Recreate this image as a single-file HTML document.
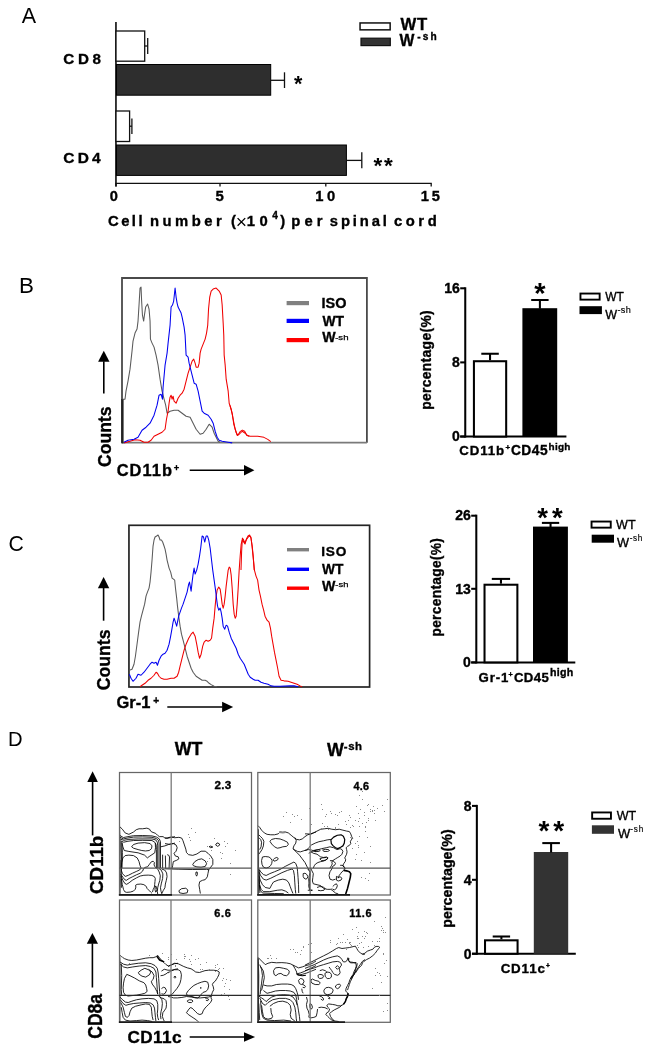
<!DOCTYPE html>
<html><head><meta charset="utf-8"><style>
html,body{margin:0;padding:0;background:#fff;}
body{width:649px;height:1050px;overflow:hidden;position:relative;}
svg{position:absolute;left:0;top:0;will-change:transform;}
text{font-family:"Liberation Sans", sans-serif;}
</style></head><body>
<svg width="649" height="1050" viewBox="0 0 649 1050">
<rect x="0" y="0" width="649" height="1050" fill="#fff"/>
<text x="21.76" y="23.1" font-size="21.51" font-weight="normal" fill="#000" >A</text>
<text x="18.96" y="292.7" font-size="22.38" font-weight="normal" fill="#000" >B</text>
<text x="8.62" y="551.39" font-size="21.19" font-weight="normal" fill="#000" >C</text>
<text x="7.94" y="746.2" font-size="20.2" font-weight="normal" fill="#000" >D</text>
<g stroke="#111" stroke-width="1.3" fill="none">
<line x1="115.95" y1="22" x2="115.95" y2="186.5" stroke-width="1.65"/>
<line x1="115.4" y1="183.4" x2="431.8" y2="183.4"/>
<line x1="116" y1="183.4" x2="116" y2="186.5"/>
<line x1="220" y1="183.4" x2="220" y2="186.5"/>
<line x1="325.8" y1="183.4" x2="325.8" y2="186.5"/>
<line x1="431.2" y1="183.4" x2="431.2" y2="186.5"/>
</g>
<rect x="116" y="31" width="28.7" height="30.2" fill="#fff" stroke="#111" stroke-width="1.3"/>
<rect x="116.5" y="64.5" width="154.2" height="30.7" fill="#2e2e2e" stroke="#000" stroke-width="1"/>
<rect x="116" y="111" width="13.6" height="30.5" fill="#fff" stroke="#111" stroke-width="1.3"/>
<rect x="116.5" y="145" width="229.9" height="30.4" fill="#2e2e2e" stroke="#000" stroke-width="1"/>
<g stroke="#111" stroke-width="1.3">
<line x1="144.7" y1="46" x2="147.7" y2="46"/><line x1="147.7" y1="38" x2="147.7" y2="54"/>
<line x1="129.6" y1="126.2" x2="131.9" y2="126.2"/><line x1="131.9" y1="118.5" x2="131.9" y2="134"/>
<line x1="271" y1="80.3" x2="284.5" y2="80.3"/><line x1="284.5" y1="72.3" x2="284.5" y2="88"/>
<line x1="347" y1="160.4" x2="361.8" y2="160.4"/><line x1="361.8" y1="152.3" x2="361.8" y2="168.2"/>
</g>
<text x="293.9" y="90.7" font-size="21.5" font-weight="bold" fill="#000" >*</text>
<text x="373.5" y="172.8" font-size="22.5" font-weight="bold" letter-spacing="1.65" fill="#000" >**</text>
<text x="63.35" y="64.38" font-size="15.18" font-weight="bold" letter-spacing="3.68" fill="#000"  stroke="#000" stroke-width="0.35">CD8</text>
<text x="63.34" y="162.87" font-size="15.47" font-weight="bold" letter-spacing="3.16" fill="#000"  stroke="#000" stroke-width="0.35">CD4</text>
<text x="109.8" y="201.48" font-size="14.62" font-weight="bold" fill="#000"  stroke="#000" stroke-width="0.35">0</text>
<text x="215.51" y="201.38" font-size="14.98" font-weight="bold" fill="#000"  stroke="#000" stroke-width="0.35">5</text>
<text x="315.35" y="201.38" font-size="14.76" font-weight="bold" letter-spacing="3.57" fill="#000"  stroke="#000" stroke-width="0.35">10</text>
<text x="420.75" y="201.48" font-size="14.69" font-weight="bold" letter-spacing="2.84" fill="#000"  stroke="#000" stroke-width="0.35">15</text>
<text x="107.96" y="226.0" font-size="14.8" font-weight="bold" letter-spacing="2.49" fill="#000" stroke="#000" stroke-width="0.35">Cell</text>
<text x="149.99" y="226.0" font-size="14.8" font-weight="bold" letter-spacing="3.48" fill="#000" stroke="#000" stroke-width="0.35">number</text>
<text x="291.19" y="226.0" font-size="14.8" font-weight="bold" letter-spacing="4.16" fill="#000" stroke="#000" stroke-width="0.35">per</text>
<text x="329.85" y="226.0" font-size="14.8" font-weight="bold" letter-spacing="2.85" fill="#000" stroke="#000" stroke-width="0.35">spinal</text>
<text x="393.89" y="226.0" font-size="14.8" font-weight="bold" letter-spacing="3.61" fill="#000" stroke="#000" stroke-width="0.35">cord</text>
<text x="231.03" y="226.0" font-size="14.8" font-weight="bold" fill="#000" stroke="#000" stroke-width="0.35">(</text>
<text x="246.84" y="226.0" font-size="14.8" font-weight="bold" fill="#000" stroke="#000" stroke-width="0.35">1</text>
<text x="259.58" y="226.0" font-size="14.8" font-weight="bold" fill="#000" stroke="#000" stroke-width="0.35">0</text>
<text x="280.26" y="226.0" font-size="14.8" font-weight="bold" fill="#000" stroke="#000" stroke-width="0.35">)</text>
<text x="272.22" y="219.42" font-size="10.1" font-weight="bold" fill="#000"  stroke="#000" stroke-width="0.35">4</text>
<path d="M237.6 218.1 L245.2 225.7 M245.2 218.1 L237.6 225.7" stroke="#000" stroke-width="1.3"/>
<rect x="360.05" y="22.95" width="30.1" height="6.9" fill="#fff" stroke="#111" stroke-width="1.5"/>
<rect x="361" y="38.2" width="29.3" height="7.4" fill="#333" stroke="#111" stroke-width="1.2"/>
<text x="400.56" y="30.43" font-size="16.72" font-weight="bold" letter-spacing="0.66" fill="#000"  stroke="#000" stroke-width="0.35">WT</text>
<text x="399.56" y="45.73" font-size="15.77" font-weight="bold" fill="#000"  stroke="#000" stroke-width="0.35">W</text>
<text x="417.18" y="39.83" font-size="10.14" font-weight="bold" letter-spacing="2.18" fill="#000"  stroke="#000" stroke-width="0.35">-sh</text>
<g stroke="#000" stroke-width="2.05" fill="none" stroke-linecap="butt">
<line x1="465.25" y1="287.27500000000003" x2="465.25" y2="437.575"/>
<line x1="460.2" y1="436.55" x2="566.4" y2="436.55"/>
<line x1="460.2" y1="288.3" x2="465.25" y2="288.3"/>
<line x1="460.2" y1="362.4" x2="465.25" y2="362.4"/>
<line x1="460.2" y1="436.55" x2="465.25" y2="436.55"/>
</g>
<text x="459.84999999999997" y="293.05" font-size="14.0" font-weight="bold" text-anchor="end" fill="#000" stroke="#000" stroke-width="0.35">16</text>
<text x="459.84999999999997" y="367.15" font-size="14.0" font-weight="bold" text-anchor="end" fill="#000" stroke="#000" stroke-width="0.35">8</text>
<text x="459.84999999999997" y="441.3" font-size="14.0" font-weight="bold" text-anchor="end" fill="#000" stroke="#000" stroke-width="0.35">0</text>
<rect x="473.92499999999995" y="361.22499999999997" width="32.250000000000014" height="75.32500000000002" fill="#fff" stroke="#000" stroke-width="2.05"/>
<g stroke="#000" stroke-width="2.05"><line x1="490.05" y1="360.2" x2="490.05" y2="353.75"/><line x1="481.3" y1="353.75" x2="498.8" y2="353.75"/></g>
<rect x="522.4" y="308.2" width="34.80000000000007" height="128.35000000000002" fill="#000"/>
<g stroke="#000" stroke-width="2.05"><line x1="539.9000000000001" y1="308.7" x2="539.9000000000001" y2="300.0"/><line x1="531.2" y1="300.0" x2="548.6" y2="300.0"/></g>
<text x="534.2" y="303.2" font-size="29" font-weight="bold" fill="#000" >*</text>
<text x="459.23" y="455.1" font-size="13.28" font-weight="bold" letter-spacing="0.92" fill="#000"  stroke="#000" stroke-width="0.35">CD11b</text>
<text x="505.54" y="450.35" font-size="7.98" font-weight="bold" fill="#000"  stroke="#000" stroke-width="0.35">+</text>
<text x="510.91" y="455.09" font-size="13.77" font-weight="bold" letter-spacing="0.5" fill="#000"  stroke="#000" stroke-width="0.35">CD45</text>
<text x="548.58" y="449.81" font-size="9.98" font-weight="bold" letter-spacing="0.23" fill="#000"  stroke="#000" stroke-width="0.35">high</text>
<text transform="translate(431.09 409.84) rotate(-90)" font-size="13.83" font-weight="bold" letter-spacing="0.35" stroke="#000" stroke-width="0.35">percentage(%)</text>
<rect x="580.45" y="293.55" width="19.200000000000024" height="6.1" fill="#fff" stroke="#000" stroke-width="1.9"/>
<rect x="579.5" y="306.2" width="22.399999999999977" height="7.900000000000034" fill="#000"/>
<text x="605.25" y="300.90" font-size="12.65" font-weight="normal" textLength="18.63" lengthAdjust="spacingAndGlyphs" stroke="#000" stroke-width="0.35">WT</text>
<text x="605.15" y="318.5" font-size="12.5" font-weight="normal" fill="#000" stroke="#000" stroke-width="0.35">W</text>
<text x="617.49" y="312.81" font-size="9.12" font-weight="normal" letter-spacing="0.31" fill="#000" stroke="#000" stroke-width="0.15">-sh</text>
<g stroke="#000" stroke-width="2.05" fill="none" stroke-linecap="butt">
<line x1="476.3" y1="514.6750000000001" x2="476.3" y2="663.425"/>
<line x1="471.2" y1="662.4" x2="575.3" y2="662.4"/>
<line x1="471.2" y1="515.7" x2="476.3" y2="515.7"/>
<line x1="471.2" y1="588.8" x2="476.3" y2="588.8"/>
<line x1="471.2" y1="662.4" x2="476.3" y2="662.4"/>
</g>
<text x="470.84999999999997" y="520.45" font-size="14.0" font-weight="bold" text-anchor="end" fill="#000" stroke="#000" stroke-width="0.35">26</text>
<text x="470.84999999999997" y="593.55" font-size="14.0" font-weight="bold" text-anchor="end" fill="#000" stroke="#000" stroke-width="0.35">13</text>
<text x="470.84999999999997" y="667.15" font-size="14.0" font-weight="bold" text-anchor="end" fill="#000" stroke="#000" stroke-width="0.35">0</text>
<rect x="484.525" y="584.725" width="32.84999999999998" height="77.67499999999993" fill="#fff" stroke="#000" stroke-width="2.05"/>
<g stroke="#000" stroke-width="2.05"><line x1="500.95000000000005" y1="583.7" x2="500.95000000000005" y2="578.9"/><line x1="491.8" y1="578.9" x2="510.1" y2="578.9"/></g>
<rect x="533.0" y="526.6" width="34.89999999999998" height="135.79999999999995" fill="#000"/>
<g stroke="#000" stroke-width="2.05"><line x1="550.55" y1="527.1" x2="550.55" y2="522.9"/><line x1="541.9" y1="522.9" x2="559.2" y2="522.9"/></g>
<text x="537.3" y="526.6" font-size="27.5" font-weight="bold" letter-spacing="4.0" fill="#000" >**</text>
<text x="478.53" y="681.9" font-size="13.21" font-weight="bold" letter-spacing="0.87" fill="#000"  stroke="#000" stroke-width="0.35">Gr-1</text>
<text x="508.47" y="677.19" font-size="7.19" font-weight="bold" fill="#000"  stroke="#000" stroke-width="0.35">+</text>
<text x="513.93" y="681.9" font-size="13.21" font-weight="bold" letter-spacing="0.4" fill="#000"  stroke="#000" stroke-width="0.35">CD45</text>
<text x="549.93" y="676.17" font-size="10.62" font-weight="bold" letter-spacing="0.31" fill="#000"  stroke="#000" stroke-width="0.35">high</text>
<text transform="translate(441.02 636.53) rotate(-90)" font-size="13.72" font-weight="bold" letter-spacing="0.32" stroke="#000" stroke-width="0.35">percentage(%)</text>
<rect x="591.5500000000001" y="521.5500000000001" width="19.200000000000024" height="6.1" fill="#fff" stroke="#000" stroke-width="1.9"/>
<rect x="591.7" y="534.7" width="22.299999999999955" height="8.0" fill="#000"/>
<text x="616.04" y="528.90" font-size="12.79" font-weight="normal" textLength="19.54" lengthAdjust="spacingAndGlyphs" stroke="#000" stroke-width="0.35">WT</text>
<text x="617.04" y="546.8" font-size="12.79" font-weight="normal" fill="#000" stroke="#000" stroke-width="0.35">W</text>
<text x="629.64" y="540.72" font-size="8.17" font-weight="normal" letter-spacing="0.72" fill="#000" stroke="#000" stroke-width="0.15">-sh</text>
<g stroke="#000" stroke-width="2.05" fill="none" stroke-linecap="butt">
<line x1="476.85" y1="804.875" x2="476.85" y2="954.775"/>
<line x1="472.0" y1="953.75" x2="575.8" y2="953.75"/>
<line x1="472.0" y1="805.9" x2="476.85" y2="805.9"/>
<line x1="472.0" y1="879.8" x2="476.85" y2="879.8"/>
<line x1="472.0" y1="953.75" x2="476.85" y2="953.75"/>
</g>
<text x="471.65" y="810.65" font-size="14.0" font-weight="bold" text-anchor="end" fill="#000" stroke="#000" stroke-width="0.35">8</text>
<text x="471.65" y="884.55" font-size="14.0" font-weight="bold" text-anchor="end" fill="#000" stroke="#000" stroke-width="0.35">4</text>
<text x="471.65" y="958.5" font-size="14.0" font-weight="bold" text-anchor="end" fill="#000" stroke="#000" stroke-width="0.35">0</text>
<rect x="485.025" y="940.3249999999999" width="32.550000000000026" height="13.425000000000045" fill="#fff" stroke="#000" stroke-width="2.05"/>
<g stroke="#000" stroke-width="2.05"><line x1="501.4" y1="939.3" x2="501.4" y2="936.5"/><line x1="492.7" y1="936.5" x2="510.1" y2="936.5"/></g>
<rect x="533.8" y="852.0" width="34.40000000000009" height="101.75" fill="#333"/>
<g stroke="#000" stroke-width="2.05"><line x1="551.0999999999999" y1="852.5" x2="551.0999999999999" y2="843.1"/><line x1="542.3" y1="843.1" x2="559.9" y2="843.1"/></g>
<text x="538.6" y="840.0" font-size="28" font-weight="bold" letter-spacing="3.8" fill="#000" >**</text>
<text x="500.63" y="972.99" font-size="13.35" font-weight="bold" letter-spacing="0.86" fill="#000"  stroke="#000" stroke-width="0.35">CD11c</text>
<text x="546.0" y="967.54" font-size="6.6" font-weight="bold" fill="#000"  stroke="#000" stroke-width="0.35">+</text>
<text transform="translate(451.9 927.66) rotate(-90)" font-size="14.25" font-weight="bold" letter-spacing="0.02" stroke="#000" stroke-width="0.35">percentage(%)</text>
<rect x="592.1500000000001" y="812.45" width="18.799999999999933" height="6.300000000000045" fill="#fff" stroke="#000" stroke-width="1.9"/>
<rect x="591.9" y="825.3" width="22.100000000000023" height="8.5" fill="#333"/>
<text x="616.65" y="819.70" font-size="13.23" font-weight="normal" textLength="19.44" lengthAdjust="spacingAndGlyphs" stroke="#000" stroke-width="0.35">WT</text>
<text x="617.94" y="837.7" font-size="12.94" font-weight="normal" fill="#000" stroke="#000" stroke-width="0.35">W</text>
<text x="630.14" y="831.62" font-size="8.17" font-weight="normal" letter-spacing="0.92" fill="#000" stroke="#000" stroke-width="0.15">-sh</text>
<path d="M122.0 442.7 L122.0 278.0 L366.9 278.0 L366.9 442.7" fill="none" stroke="#4a4a4a" stroke-width="1.8"/>
<line x1="122.0" y1="442.7" x2="366.9" y2="442.7" stroke="#7a7a7a" stroke-width="1.7"/>
<line x1="122.4" y1="399" x2="122.4" y2="443.4" stroke="#222" stroke-width="2.4"/>
<path d="M122.40 399.20 L125.01 399.20 L126.01 391.19 L128.01 381.17 L130.02 369.15 L132.02 351.12 L133.02 341.11 L135.02 333.09 L137.03 329.09 L138.03 321.07 L139.03 305.05 L140.03 288.02 L141.03 287.02 L141.63 301.04 L142.44 315.06 L143.64 321.07 L144.44 315.06 L145.64 307.05 L147.64 304.05 L149.05 309.05 L150.05 321.07 L150.45 339.10 L152.05 343.11 L154.05 347.12 L156.06 355.13 L158.06 365.14 L160.06 379.17 L162.07 391.19 L164.07 399.20 L165.67 405.21 L167.08 413.22 L170.08 411.22 L174.09 410.22 L178.09 410.22 L182.10 413.22 L186.11 416.23 L190.11 417.23 L192.12 421.23 L196.12 429.25 L200.13 434.25 L203.13 433.25 L206.14 429.25 L209.14 424.24 L212.15 427.24 L214.15 433.25 L216.15 437.26 L218.16 441.27 L220.16 442.27" fill="none" stroke="#5a5a5a" stroke-width="1.05" stroke-linejoin="round" />
<path d="M124.01 442.87 L130.02 441.27 L135.02 439.66 L140.03 440.26 L144.04 442.27 L148.04 442.27 L151.05 440.26 L154.05 436.26 L158.06 434.25 L162.07 432.25 L165.07 429.25 L166.47 419.23 L168.08 411.22 L169.08 403.21 L170.08 397.20 L171.08 395.19 L172.08 399.20 L173.08 396.19 L174.09 401.20 L176.09 403.21 L178.09 398.20 L180.10 395.19 L182.10 393.19 L184.10 389.18 L186.11 381.17 L188.11 373.16 L190.11 367.15 L192.12 361.14 L193.72 359.13 L195.12 363.14 L196.12 367.15 L198.12 367.15 L199.13 363.14 L200.13 353.12 L201.13 349.12 L203.13 344.11 L205.14 339.10 L206.54 333.09 L207.74 325.08 L208.54 309.05 L209.74 297.04 L211.15 291.03 L213.15 289.02 L216.15 288.02 L219.16 291.03 L221.16 295.03 L222.16 305.05 L223.17 323.08 L223.77 335.10 L224.17 355.13 L225.17 365.14 L226.17 379.17 L228.17 391.19 L229.17 403.21 L231.18 409.21 L233.18 419.23 L235.18 429.25 L237.19 435.26 L239.19 434.25 L242.20 431.25 L245.20 433.25 L247.20 435.26 L249.21 436.26" fill="none" stroke="#f00000" stroke-width="1.05" stroke-linejoin="round" />
<path d="M230.00 405.45 L232.31 413.93 L233.85 424.71 L236.16 432.42 L237.70 435.50 L240.02 431.65 L242.33 430.11 L244.64 431.19 L246.95 435.50 L250.03 436.27 L257.73 436.27 L263.90 437.35 L267.75 439.35 L270.83 441.66" fill="none" stroke="#f00000" stroke-width="1.05" stroke-linejoin="round" />
<path d="M124.01 442.27 L128.01 440.26 L134.02 439.26 L138.03 437.26 L142.04 430.25 L146.04 427.24 L150.05 423.24 L154.05 415.22 L157.06 405.21 L159.06 395.19 L161.07 394.19 L162.47 399.20 L163.07 387.18 L165.07 365.14 L167.08 353.12 L168.08 343.11 L170.08 325.08 L171.08 307.05 L172.48 305.05 L173.69 301.04 L175.09 288.02 L176.09 297.04 L177.09 303.04 L178.09 307.05 L179.09 309.05 L180.10 311.06 L181.10 313.06 L182.10 317.07 L184.10 327.08 L185.10 335.10 L186.11 355.13 L188.11 357.13 L189.11 363.14 L190.11 367.15 L192.12 375.16 L194.12 383.17 L196.12 384.17 L198.12 391.19 L200.13 401.20 L202.13 411.22 L204.13 413.22 L208.14 415.22 L211.15 419.23 L213.15 423.24 L215.15 431.25 L217.16 437.26 L219.16 440.26 L222.16 441.27 L228.17 442.27 L232.18 442.87" fill="none" stroke="#0000f0" stroke-width="1.05" stroke-linejoin="round" />
<line x1="286.6" y1="303.1" x2="309" y2="303.1" stroke="#808080" stroke-width="4.2"/>
<line x1="286.6" y1="320.9" x2="309" y2="320.9" stroke="#0000ff" stroke-width="4.2"/>
<line x1="286.6" y1="340.1" x2="309" y2="340.1" stroke="#ff0000" stroke-width="4.2"/>
<text x="321.51" y="308.18" font-size="14.48" font-weight="bold" letter-spacing="-0.01" fill="#000"  stroke="#000" stroke-width="0.35">ISO</text>
<text x="322.46" y="325.62" font-size="14.9" font-weight="bold" textLength="21.61" lengthAdjust="spacingAndGlyphs"  stroke="#000" stroke-width="0.35">WT</text>
<text x="322.16" y="342.43" font-size="14.17" font-weight="bold" fill="#000"  stroke="#000" stroke-width="0.35">W</text>
<text x="335.17" y="339.63" font-size="7.63" font-weight="normal" textLength="13.35" lengthAdjust="spacingAndGlyphs" stroke="#000" stroke-width="0.25">-sh</text>
<line x1="103.8" y1="361.2" x2="103.8" y2="393.6" stroke="#000" stroke-width="1.6"/><path d="M103.8 350.7 L98.1 361.7 L109.5 361.7 Z" fill="#000"/>
<text transform="translate(110.74 466.94) rotate(-90)" font-size="19.28" font-weight="bold" textLength="60.39" lengthAdjust="spacingAndGlyphs" stroke="#000" stroke-width="0.35">Counts</text>
<text x="116.7" y="475.86" font-size="16.41" font-weight="bold" letter-spacing="1.06" fill="#000"  stroke="#000" stroke-width="0.35">CD11b</text>
<text x="173.68" y="471.36" font-size="9.4" font-weight="bold" fill="#000"  stroke="#000" stroke-width="0.35">+</text>
<line x1="189.7" y1="470.3" x2="244.5" y2="470.3" stroke="#000" stroke-width="1.6"/><path d="M254.4 470.3 L244 465.1 L244 475.5 Z" fill="#000"/>
<rect x="128.95" y="525.3" width="240.65" height="161.7" fill="none" stroke="#242424" stroke-width="1.7"/>
<path d="M129.41 670.24 L132.01 669.24 L134.01 664.23 L135.42 656.22 L137.02 644.20 L138.62 632.18 L140.02 622.16 L141.43 616.15 L143.03 610.14 L144.63 604.13 L146.03 596.12 L147.44 592.12 L149.04 588.11 L150.04 582.10 L151.04 572.08 L152.04 560.06 L153.04 546.04 L154.05 540.03 L155.05 537.03 L156.65 536.03 L158.05 535.02 L159.05 537.03 L160.06 540.03 L161.46 540.03 L162.66 542.04 L164.06 546.04 L165.06 549.05 L166.07 554.05 L167.07 560.06 L168.07 564.07 L169.07 568.08 L170.67 572.08 L172.08 578.09 L173.48 579.09 L174.68 580.10 L175.48 588.11 L176.68 598.12 L177.48 606.14 L178.69 616.15 L180.09 626.17 L181.49 634.18 L183.09 640.19 L185.10 648.21 L187.10 656.22 L189.10 662.23 L191.11 668.24 L193.11 672.24 L196.11 676.25 L199.12 678.25 L202.12 680.26 L205.13 680.26 L207.13 681.26 L209.13 683.26 L211.14 684.66 L214.14 686.27 L217.15 686.67" fill="none" stroke="#5a5a5a" stroke-width="1.05" stroke-linejoin="round" />
<path d="M140.02 686.67 L142.03 685.26 L145.03 683.26 L148.04 680.26 L151.04 678.25 L154.05 675.25 L156.05 672.24 L157.45 673.25 L159.05 676.25 L161.06 678.25 L164.06 679.25 L167.07 679.25 L171.07 678.25 L174.08 678.25 L177.08 676.25 L178.69 672.24 L180.09 666.23 L182.09 658.22 L184.09 650.21 L186.10 644.20 L188.70 638.19 L191.11 634.18 L193.11 632.18 L195.11 636.19 L196.71 644.20 L198.12 652.21 L199.52 658.22 L201.12 654.21 L202.72 646.20 L204.13 642.20 L206.13 640.19 L208.13 641.19 L210.14 640.19 L211.54 638.19 L212.74 628.17 L214.14 618.16 L215.14 606.14 L216.15 596.12 L217.15 590.11 L218.75 587.11 L220.15 589.11 L221.15 596.12 L222.16 604.13 L223.16 608.14 L224.16 604.13 L225.16 596.12 L226.16 586.11 L227.16 578.09 L228.17 570.08 L229.17 567.08 L230.17 568.08 L231.17 575.09 L232.17 588.11 L233.17 604.13 L234.17 614.15 L235.18 618.16 L236.18 616.15 L237.18 604.13 L238.18 588.11 L239.18 570.08 L240.18 556.06 L241.19 544.04 L242.19 540.03 L243.19 539.03 L244.79 543.04 L246.19 540.03 L247.60 538.03 L249.20 536.03 L250.80 537.03 L252.20 546.04 L253.21 556.06 L254.21 570.08" fill="none" stroke="#f00000" stroke-width="1.05" stroke-linejoin="round" />
<path d="M241.00 570.08 L241.60 552.05 L242.40 538.03 L243.61 542.04 L245.01 544.04 L246.41 539.03 L248.01 536.03 L249.62 535.02 L251.02 538.03 L252.02 546.04 L253.02 556.06 L254.42 570.08 L256.03 576.09 L257.63 580.10 L259.03 590.11 L260.43 596.12 L262.04 604.13 L263.64 610.14 L265.04 616.15 L267.04 620.16 L269.05 622.16 L270.45 628.17 L271.65 636.19 L273.05 644.20 L274.46 652.21 L276.06 660.22 L277.66 668.24 L279.06 676.25 L281.07 680.26 L284.07 680.86 L288.08 681.26 L291.08 682.26 L294.09 683.26 L297.09 684.26 L300.10 685.87 L302.10 686.67" fill="none" stroke="#f00000" stroke-width="1.05" stroke-linejoin="round" />
<path d="M129.41 674.25 L131.01 678.25 L133.01 681.26 L136.02 678.25 L138.02 674.25 L141.03 675.25 L144.03 672.24 L147.04 668.24 L150.04 664.23 L152.04 662.23 L154.05 663.23 L156.05 662.23 L157.45 665.23 L159.05 660.22 L161.06 656.22 L163.06 654.21 L165.06 653.21 L167.07 650.21 L169.07 644.20 L170.67 636.19 L172.08 628.17 L173.08 622.16 L174.08 618.16 L175.08 621.16 L176.68 626.17 L177.48 622.16 L178.69 616.15 L180.09 612.15 L181.49 608.14 L183.09 604.13 L185.10 598.12 L187.10 592.12 L188.70 584.10 L189.50 582.10 L191.11 591.11 L192.11 582.10 L193.11 574.09 L194.11 568.08 L195.11 574.09 L196.71 570.08 L198.12 564.07 L199.52 556.06 L200.72 548.04 L202.12 536.03 L203.53 537.03 L204.73 542.04 L206.13 536.03 L207.53 536.03 L208.73 540.03 L210.14 548.04 L211.54 560.06 L212.74 570.08 L214.14 580.10 L215.54 590.11 L216.75 600.13 L217.55 606.14 L218.75 610.14 L220.15 608.14 L221.15 612.15 L222.16 618.16 L223.16 626.17 L224.76 629.17 L226.16 625.17 L227.56 626.17 L229.17 632.18 L231.17 638.19 L234.17 644.20 L236.18 648.21 L238.18 654.21 L240.18 658.22 L242.19 661.23 L244.19 664.23 L246.19 669.24 L248.20 674.25 L250.20 677.25 L253.21 679.25 L255.01 680.26" fill="none" stroke="#0000f0" stroke-width="1.05" stroke-linejoin="round" />
<path d="M255.02 680.26 L258.03 680.26 L261.03 682.26 L264.04 683.26 L268.04 684.26 L271.05 685.87 L274.05 686.27 L280.06 686.27 L290.08 685.87 L294.09 685.87 L298.09 686.67" fill="none" stroke="#0000f0" stroke-width="1.05" stroke-linejoin="round" />
<line x1="287" y1="549.7" x2="309" y2="549.7" stroke="#808080" stroke-width="3.4"/>
<line x1="287" y1="569.3" x2="309" y2="569.3" stroke="#0000ff" stroke-width="3.4"/>
<line x1="287" y1="588.2" x2="309" y2="588.2" stroke="#ff0000" stroke-width="3.4"/>
<text x="321.16" y="555.89" font-size="13.63" font-weight="bold" letter-spacing="0.83" fill="#000"  stroke="#000" stroke-width="0.35">ISO</text>
<text x="322.06" y="573.73" font-size="15.19" font-weight="bold" textLength="21.41" lengthAdjust="spacingAndGlyphs"  stroke="#000" stroke-width="0.35">WT</text>
<text x="322.06" y="590.73" font-size="14.17" font-weight="bold" fill="#000"  stroke="#000" stroke-width="0.35">W</text>
<text x="335.38" y="587.22" font-size="7.76" font-weight="normal" textLength="13.03" lengthAdjust="spacingAndGlyphs" stroke="#000" stroke-width="0.25">-sh</text>
<line x1="103.6" y1="587.8" x2="103.6" y2="620.7" stroke="#000" stroke-width="1.6"/><path d="M103.6 577.1 L97.89999999999999 588.3 L109.3 588.3 Z" fill="#000"/>
<text transform="translate(109.64 690.25) rotate(-90)" font-size="18.71" font-weight="bold" textLength="60.80" lengthAdjust="spacingAndGlyphs" stroke="#000" stroke-width="0.35">Counts</text>
<text x="116.50" y="708.26" font-size="17.02" font-weight="bold" textLength="33.88" lengthAdjust="spacingAndGlyphs"  stroke="#000" stroke-width="0.35">Gr-1</text>
<text x="153.36" y="704.21" font-size="10.0" font-weight="bold" fill="#000"  stroke="#000" stroke-width="0.35">+</text>
<line x1="167.3" y1="707" x2="222.6" y2="707" stroke="#000" stroke-width="1.6"/><path d="M233.2 707 L222.1 701.8 L222.1 712.2 Z" fill="#000"/>
<path d="M119.62 826.47 L122.40 829.24 L125.17 832.94 L128.87 834.33 L133.49 832.02 L136.26 829.71 L139.04 828.78 L142.73 828.78 L146.89 828.14 L149.67 829.24 L150.59 831.09 L151.98 832.02 L155.68 833.40 L157.53 835.25 L159.37 836.64 L163.07 836.64 L164.92 838.03 L166.77 838.49 L170.47 837.56 L175.00 836.64" fill="none" stroke="#000" stroke-width="0.85" stroke-linejoin="round" />
<path d="M119.62 835.25 L123.32 837.56 L127.94 836.64 L133.49 835.72 L142.73 835.53 L151.98 835.90 L156.60 837.10 L159.37 838.95 L160.48 841.73 L160.48 868.07" fill="none" stroke="#000" stroke-width="0.85" stroke-linejoin="round" />
<path d="M119.81 837.10 L123.32 838.95 L127.94 838.03 L133.49 837.10 L142.73 836.92 L151.98 837.29 L156.14 838.49 L158.45 840.34 L159.10 843.11 L159.10 868.07" fill="none" stroke="#000" stroke-width="0.85" stroke-linejoin="round" />
<path d="M120.08 838.95 L123.78 840.34 L128.87 839.41 L138.11 838.95 L151.98 838.95 L155.68 839.88 L157.34 842.19 L157.71 845.89 L157.71 868.07" fill="none" stroke="#000" stroke-width="0.85" stroke-linejoin="round" />
<path d="M120.55 840.80 L123.78 842.19 L127.94 841.26 L133.49 840.52 L142.73 840.34 L151.98 840.52 L154.75 842.19 L156.14 844.96 L156.42 849.58 L156.42 868.07" fill="none" stroke="#000" stroke-width="0.85" stroke-linejoin="round" />
<path d="M131.64 846.81 L133.49 844.50 L138.11 843.11 L144.58 842.65 L150.13 843.57 L151.98 845.89 L151.52 848.66 L149.21 850.51 L145.51 850.97 L141.81 850.51 L138.11 849.58 L133.49 848.20 Z" fill="none" stroke="#000" stroke-width="0.85" stroke-linejoin="round" />
<path d="M121.93 842.19 L122.86 846.81 L124.24 850.51 L128.87 851.43 L138.11 852.82 L144.58 855.13 L147.36 857.90 L149.21 856.52 L151.98 854.67 L154.75 852.82 L155.49 847.73 L155.31 843.11" fill="none" stroke="#000" stroke-width="0.85" stroke-linejoin="round" />
<path d="M122.86 857.90 L125.17 855.59 L128.87 855.13 L133.49 855.59 L137.19 857.90 L139.04 861.60 L139.96 865.30 L141.07 868.07 L139.68 869.92 L136.26 871.49 L132.56 873.16 L128.40 875.28 L125.45 876.39 L123.78 875.19 L122.40 873.34 L121.47 870.85 L121.29 868.07 L121.66 862.53 Z" fill="none" stroke="#000" stroke-width="0.85" stroke-linejoin="round" />
<path d="M160.76 846.81 L164.92 845.89 L168.62 844.50 L175.00 843.11" fill="none" stroke="#000" stroke-width="0.85" stroke-linejoin="round" />
<path d="M162.61 854.67 L162.61 868.07" fill="none" stroke="#000" stroke-width="0.85" stroke-linejoin="round" />
<path d="M165.38 855.59 L165.66 868.07" fill="none" stroke="#000" stroke-width="0.85" stroke-linejoin="round" />
<path d="M167.23 854.67 L168.62 855.13 L169.54 856.98 L169.08 868.07" fill="none" stroke="#000" stroke-width="0.85" stroke-linejoin="round" />
<path d="M119.62 827.40 L120.08 847.73 L119.81 868.07" fill="none" stroke="#000" stroke-width="0.85" stroke-linejoin="round" />
<path d="M121.01 841.26 L121.47 856.98 L121.10 868.07" fill="none" stroke="#000" stroke-width="0.85" stroke-linejoin="round" />
<path d="M121.93 843.11 L122.40 852.36 L122.03 868.07" fill="none" stroke="#000" stroke-width="0.85" stroke-linejoin="round" />
<path d="M120.77 874.18 L122.93 877.26 L124.78 879.72 L126.32 880.34 L129.09 878.49 L132.79 876.64 L136.49 874.79 L140.19 873.25 L142.65 871.09 L143.58 868.63 L145.12 867.40 L147.58 866.78 L149.43 864.31 L151.28 861.85 L153.13 861.23 L154.36 862.47 L154.06 864.93 L154.98 866.78 L156.83 868.63" fill="none" stroke="#000" stroke-width="0.85" stroke-linejoin="round" />
<path d="M121.08 876.02 L122.93 880.34 L124.78 883.42 L126.63 884.35 L129.09 882.80 L132.18 880.34 L136.49 877.87 L140.19 876.02 L143.89 875.29 L148.20 875.10 L151.90 875.41 L154.36 876.64 L155.29 878.49 L154.98 881.57 L154.67 884.65 L154.36 887.12 L153.13 889.58 L152.51 892.05" fill="none" stroke="#000" stroke-width="0.85" stroke-linejoin="round" />
<path d="M121.39 878.49 L122.31 884.65 L123.55 889.58 L124.78 891.74 L126.63 892.36 L130.33 892.05 L133.41 891.12 L135.26 889.28 L135.87 887.12 L135.57 885.27 L137.11 884.35 L140.80 884.04 L143.89 884.65 L146.35 886.50 L146.97 888.35 L148.82 890.20 L150.67 892.05 L151.90 893.28" fill="none" stroke="#000" stroke-width="0.85" stroke-linejoin="round" />
<path d="M155.60 885.89 L156.52 887.12 L156.83 889.58 L156.52 891.43 L155.60 892.05 L154.98 889.58 L155.29 887.12 Z" fill="none" stroke="#000" stroke-width="0.85" stroke-linejoin="round" />
<path d="M119.97 860.00 L120.16 878.49 L120.03 893.90" fill="none" stroke="#000" stroke-width="0.85" stroke-linejoin="round" />
<path d="M121.39 867.40 L121.20 878.49 L121.45 887.73" fill="none" stroke="#000" stroke-width="0.85" stroke-linejoin="round" />
<path d="M157.53 868.78 L159.19 872.02 L160.30 875.72 L159.84 880.34 L158.64 884.04 L157.71 887.73 L157.34 891.43 L157.71 894.39" fill="none" stroke="#000" stroke-width="0.85" stroke-linejoin="round" />
<path d="M158.91 868.51 L161.22 870.17 L162.89 873.87 L162.61 878.49 L161.41 883.11 L160.48 887.73 L161.04 891.43 L161.96 894.02" fill="none" stroke="#000" stroke-width="0.85" stroke-linejoin="round" />
<path d="M161.69 869.06 L164.92 870.17 L166.59 872.94 L167.05 876.64 L166.31 880.34 L165.38 884.04 L164.92 887.73 L163.26 890.51 L161.96 893.10" fill="none" stroke="#000" stroke-width="0.85" stroke-linejoin="round" />
<path d="M165.00 838.03 L167.77 837.75 L171.24 836.92 L174.71 837.75 L178.87 837.33 L181.64 838.03 L183.03 840.80 L184.41 844.96 L185.80 849.12 L186.49 852.59 L188.58 854.67 L192.74 855.36 L196.90 853.98 L201.06 851.20 L205.22 851.20 L207.99 853.28 L210.76 856.06 L212.84 859.52 L212.84 864.38 L210.76 867.15 L208.68 869.92 L207.99 873.39 L207.30 876.86 L205.22 879.63 L202.44 880.32 L199.67 881.71 L198.98 885.18 L199.67 889.34 L200.36 893.50" fill="none" stroke="#000" stroke-width="0.85" stroke-linejoin="round" />
<path d="M165.00 843.58 L169.16 844.27 L173.32 843.58 L176.09 844.96 L177.20 847.74 L176.09 851.20 L174.01 853.28 L175.40 856.06 L178.17 856.75 L178.87 858.83 L176.79 860.22 L173.32 861.60 L172.63 865.76 L171.93 868.54" fill="none" stroke="#000" stroke-width="0.85" stroke-linejoin="round" />
<path d="M192.74 864.38 L194.82 861.60 L198.28 859.52 L201.75 858.83 L205.22 860.91 L206.60 863.68 L205.22 866.46 L201.06 867.15 L196.90 866.87 L193.43 865.76 Z" fill="none" stroke="#000" stroke-width="0.85" stroke-linejoin="round" />
<path d="M196.06 872.00 L197.17 872.00 L197.45 874.36 L196.62 876.16 L195.79 874.36 Z" fill="none" stroke="#000" stroke-width="0.85" stroke-linejoin="round" />
<path d="M178.87 890.73 L181.64 888.65 L185.80 888.23 L187.88 890.03 L187.19 892.81 L183.03 893.50 L179.56 892.81 Z" fill="none" stroke="#000" stroke-width="0.85" stroke-linejoin="round" />
<path d="M215.62 844.96 L217.00 842.88 L219.08 843.58 L219.78 844.96 L217.70 846.35 Z" fill="none" stroke="#000" stroke-width="0.85" stroke-linejoin="round" />
<path d="M209.10 846.63 L210.76 846.07 L212.84 847.04 L210.76 847.74 Z" fill="none" stroke="#000" stroke-width="0.85" stroke-linejoin="round" />
<path d="M165.00 868.81 L178.87 869.23 L192.74 869.51 L206.60 869.37 L209.10 869.92" fill="none" stroke="#000" stroke-width="0.85" stroke-linejoin="round" />
<path d="M257.85 825.55 L259.70 827.40 L261.55 830.17 L264.32 832.94 L267.09 834.33 L270.79 834.79 L274.49 834.79 L278.19 833.87 L280.04 832.02 L282.81 832.48 L285.58 832.02 L288.36 832.94 L291.13 835.25 L293.90 837.56 L296.68 839.41 L299.45 839.88 L302.22 838.95 L305.00 836.64 L307.77 834.79 L310.54 833.87 L313.32 832.94 L316.00 832.02" fill="none" stroke="#000" stroke-width="0.85" stroke-linejoin="round" />
<path d="M258.77 834.79 L260.62 836.64 L262.47 838.49 L263.86 841.26 L263.40 845.89 L262.01 849.58 L260.16 852.36 L258.77 854.21" fill="none" stroke="#000" stroke-width="0.85" stroke-linejoin="round" />
<path d="M258.77 837.56 L260.62 839.41 L261.55 842.19 L261.08 846.81 L259.70 849.58" fill="none" stroke="#000" stroke-width="0.85" stroke-linejoin="round" />
<path d="M269.87 841.26 L271.72 839.41 L275.41 838.49 L280.04 838.95 L283.73 840.34 L287.43 842.19 L288.36 844.50 L286.51 846.35 L282.81 846.81 L280.04 847.73 L277.26 848.20 L274.49 846.81 L271.72 844.04 Z" fill="none" stroke="#000" stroke-width="0.85" stroke-linejoin="round" />
<path d="M294.83 837.56 L296.21 840.34 L295.75 843.11 L293.90 845.89 L292.98 848.66 L294.83 850.05 L297.60 851.43 L300.37 851.89 L303.15 850.97 L305.92 850.05 L308.69 849.58 L311.47 850.05 L314.24 850.97 L316.00 851.43" fill="none" stroke="#000" stroke-width="0.85" stroke-linejoin="round" />
<path d="M292.98 848.66 L295.75 851.43 L299.45 855.13 L302.22 858.83 L305.00 862.53 L307.31 867.15 L309.16 869.92" fill="none" stroke="#000" stroke-width="0.85" stroke-linejoin="round" />
<path d="M262.47 856.98 L265.24 856.52 L268.94 856.98 L270.79 858.37 L272.18 860.68 L271.72 863.45 L270.79 865.30 L268.94 867.15 L266.17 868.07 L263.40 867.15 L262.01 864.37 L261.55 860.68 Z" fill="none" stroke="#000" stroke-width="0.85" stroke-linejoin="round" />
<path d="M273.10 859.75 L274.49 858.37 L276.80 857.44 L278.19 858.37 L277.73 859.75 L275.88 860.68 L274.03 861.14 Z" fill="none" stroke="#000" stroke-width="0.85" stroke-linejoin="round" />
<path d="M258.77 869.00 L260.62 871.77 L263.40 874.54 L266.17 875.47 L269.87 873.62 L274.49 871.77 L280.04 869.46 L285.58 866.22 L291.13 863.45 L293.90 862.06 L295.75 863.45 L297.14 867.15 L297.60 871.77 L298.06 877.32 L298.53 884.71 L298.71 893.03" fill="none" stroke="#000" stroke-width="0.85" stroke-linejoin="round" />
<path d="M258.77 871.77 L260.62 875.47 L263.40 879.17 L266.17 880.09 L270.79 878.24 L276.34 875.47 L281.89 872.69 L287.43 870.38 L292.05 869.00 L293.44 870.38 L294.37 875.47 L294.83 882.86 L295.29 889.34 L295.75 893.50" fill="none" stroke="#000" stroke-width="0.85" stroke-linejoin="round" />
<path d="M258.77 875.47 L260.16 880.09 L262.47 884.71 L265.24 887.49 L269.87 888.41 L271.72 884.71 L273.56 881.94 L278.19 880.09 L282.81 879.17 L286.51 880.09 L288.82 882.86 L290.21 886.56 L291.59 890.26 L292.98 893.50" fill="none" stroke="#000" stroke-width="0.85" stroke-linejoin="round" />
<path d="M258.77 879.17 L259.70 884.71 L261.08 889.34 L263.40 891.65 L269.87 891.65 L277.26 890.26 L281.89 889.80 L285.58 891.18 L288.36 893.03" fill="none" stroke="#000" stroke-width="0.85" stroke-linejoin="round" />
<path d="M259.24 884.71 L260.16 890.26 L262.47 893.03 L274.49 893.50 L283.73 893.68" fill="none" stroke="#000" stroke-width="0.85" stroke-linejoin="round" />
<path d="M303.15 873.62 L305.00 873.16 L306.85 874.54 L307.77 876.39 L307.31 878.24 L305.92 879.17 L304.07 878.24 L303.15 876.39 Z" fill="none" stroke="#000" stroke-width="0.85" stroke-linejoin="round" />
<path d="M309.16 870.38 L310.54 872.69 L310.08 877.32 L309.16 881.94 L308.69 885.64 L309.62 888.41 L311.47 890.26" fill="none" stroke="#000" stroke-width="0.85" stroke-linejoin="round" />
<path d="M307.77 890.26 L312.39 890.26" fill="none" stroke="#000" stroke-width="0.85" stroke-linejoin="round" />
<path d="M258.40 829.24 L258.59 856.98 L258.40 893.96" fill="none" stroke="#000" stroke-width="0.85" stroke-linejoin="round" />
<path d="M259.70 869.92 L259.51 884.71 L259.88 893.03" fill="none" stroke="#000" stroke-width="0.85" stroke-linejoin="round" />
<path d="M279.11 832.02 L282.81 832.48 L285.58 832.02" fill="none" stroke="#888" stroke-width="2.2" stroke-linejoin="round" />
<path d="M305.00 833.87 L307.77 833.87 L310.55 834.33 L313.32 832.94 L317.02 831.09 L320.72 829.24 L324.41 828.78 L328.11 828.32 L331.81 829.24 L335.51 829.71 L339.21 829.24 L342.90 830.17 L346.60 831.09 L349.37 831.56 L350.76 833.87 L351.69 836.64 L352.61 838.49 L351.22 839.88 L350.30 841.73 L350.76 843.57 L349.37 845.42 L347.53 846.35 L346.14 847.73 L346.60 849.58 L347.06 851.89 L346.60 854.21 L345.68 856.05 L344.75 857.90 L345.68 859.75 L345.21 861.60 L343.83 863.45 L342.90 865.30 L343.83 867.15 L345.68 868.53" fill="none" stroke="#000" stroke-width="0.85" stroke-linejoin="round" />
<path d="M305.00 850.51 L306.85 850.05 L308.70 847.73 L311.47 844.96 L315.17 843.11 L318.87 841.73 L323.49 840.80 L327.19 839.88 L330.89 839.41" fill="none" stroke="#000" stroke-width="0.85" stroke-linejoin="round" />
<path d="M308.70 853.28 L312.40 851.43 L317.02 850.05 L321.64 848.66 L326.26 847.73 L329.96 846.81 L333.66 847.73 L336.89 849.58 L340.13 848.66 L341.98 849.58 L342.90 851.43 L341.98 854.21 L340.13 856.05 L337.82 857.44 L335.51 858.83 L333.20 860.21 L331.81 862.06 L332.27 863.91 L331.35 865.76 L329.96 868.07" fill="none" stroke="#000" stroke-width="0.85" stroke-linejoin="round" />
<path d="M313.78 850.51 L316.09 849.77 L319.33 849.77 L320.25 850.51 L318.87 851.43 L315.17 851.62 Z" fill="none" stroke="#000" stroke-width="0.85" stroke-linejoin="round" />
<path d="M322.56 850.05 L325.34 849.40 L328.57 849.58 L329.50 850.51 L327.65 851.43 L323.95 851.43 Z" fill="none" stroke="#000" stroke-width="0.85" stroke-linejoin="round" />
<path d="M310.55 851.43 L313.32 853.28 L317.02 854.21 L318.87 855.59 L320.72 856.98 L323.49 857.44 L326.73 856.98 L328.11 857.90 L326.26 859.75 L323.49 861.14 L320.72 861.60 L317.94 862.53 L315.63 863.91 L314.24 865.76 L313.32 868.07" fill="none" stroke="#000" stroke-width="0.85" stroke-linejoin="round" />
<path d="M319.79 858.83 L322.56 857.90 L326.26 857.44 L327.65 858.83 L325.34 860.21 L321.64 860.68 Z" fill="none" stroke="#000" stroke-width="0.85" stroke-linejoin="round" />
<path d="M310.55 868.07 L311.93 870.85 L313.32 873.62 L312.86 877.32 L312.40 881.02 L313.32 883.79 L317.02 884.71 L320.72 885.64 L323.49 888.41 L327.19 889.34 L330.89 889.34 L332.73 890.72 L335.51 893.03 L338.28 893.96" fill="none" stroke="#000" stroke-width="0.85" stroke-linejoin="round" />
<path d="M307.77 869.00 L310.08 871.77 L309.16 876.39 L308.70 880.09 L309.62 883.79 L309.16 887.49 L309.62 890.26 L312.40 890.26" fill="none" stroke="#000" stroke-width="0.85" stroke-linejoin="round" />
<path d="M329.96 860.68 L332.73 860.68 L334.58 862.06 L335.51 863.45 L334.58 865.30 L332.73 866.22 L331.81 869.00 L329.96 871.77 L329.04 875.47 L329.96 879.17 L332.73 880.09 L335.51 879.17" fill="none" stroke="#000" stroke-width="0.85" stroke-linejoin="round" />
<path d="M340.13 865.30 L341.98 865.30 L343.83 866.22 L344.75 868.07 L343.83 870.38 L341.98 871.77 L340.59 873.62 L339.21 875.47 L338.28 878.24" fill="none" stroke="#000" stroke-width="0.85" stroke-linejoin="round" />
<path d="M336.43 876.39 L338.28 877.32 L340.13 876.85 L341.98 878.24 L341.05 880.09 L338.28 881.02 L336.43 880.09 Z" fill="none" stroke="#000" stroke-width="0.85" stroke-linejoin="round" />
<path d="M332.73 886.56 L334.58 884.71 L336.43 883.79 L337.36 885.64 L336.43 888.41 L334.58 889.80 L332.73 889.34 L331.81 888.41" fill="none" stroke="#000" stroke-width="0.85" stroke-linejoin="round" />
<path d="M317.02 887.49 L319.79 886.56 L323.49 887.02 L324.88 888.41 L323.95 890.26 L320.72 890.72 L317.94 890.26" fill="none" stroke="#000" stroke-width="0.85" stroke-linejoin="round" />
<path d="M330.89 839.88 L333.66 837.10 L337.36 835.25 L341.05 834.79 L343.37 836.18 L344.75 839.41 L344.29 843.11 L342.90 845.89 L340.59 847.27 L337.82 848.66 L335.51 847.73 L333.20 845.89 L331.35 843.57 Z" fill="none" stroke="#000" stroke-width="1.2" stroke-linejoin="round" />
<path d="M343.83 870.38 L346.60 870.85 L349.37 871.77 L350.76 873.62 L350.30 877.32 L349.37 881.02 L348.45 884.71 L347.53 888.41 L346.60 891.18 L345.68 893.96" fill="none" stroke="#000" stroke-width="1.6" stroke-linejoin="round" />
<path d="M119.39 954.93 L121.70 956.78 L124.47 958.63 L128.17 960.02 L131.87 960.48 L136.49 960.02 L141.11 959.09 L145.73 958.17 L149.43 957.71 L153.13 957.71 L155.90 956.78 L157.75 955.40 L159.14 957.24 L160.53 959.09 L162.37 960.94 L164.22 962.79 L166.07 964.64 L168.38 966.03 L171.16 965.10 L174.39 963.72 L178.00 963.25" fill="none" stroke="#000" stroke-width="0.85" stroke-linejoin="round" />
<path d="M119.85 961.87 L123.55 964.18 L127.24 965.10 L131.87 964.18 L138.34 963.25 L145.73 962.79 L151.28 963.72 L154.98 965.56 L157.29 968.34 L158.21 972.96 L158.68 978.51 L159.14 984.98 L159.60 991.45 L160.06 996.07" fill="none" stroke="#000" stroke-width="0.85" stroke-linejoin="round" />
<path d="M120.31 964.18 L123.55 966.95 L127.24 967.88 L132.79 966.95 L139.26 966.03 L145.73 965.56 L150.36 966.49 L154.05 968.34 L155.90 972.04 L156.37 977.58 L156.83 983.13 L157.29 989.60 L157.75 994.22" fill="none" stroke="#000" stroke-width="0.85" stroke-linejoin="round" />
<path d="M138.34 972.50 L141.11 970.19 L144.81 968.34 L148.51 969.73 L150.82 972.04 L149.43 974.81 L145.73 977.12 L142.04 976.20 L139.26 974.35 Z" fill="none" stroke="#000" stroke-width="0.85" stroke-linejoin="round" />
<path d="M148.51 969.26 L152.21 972.04 L154.05 975.73 L153.13 979.43 L151.28 981.28 L152.21 984.05 L154.98 987.75 L156.83 991.45 L157.75 994.22" fill="none" stroke="#000" stroke-width="0.85" stroke-linejoin="round" />
<path d="M126.78 974.35 L130.02 975.73 L134.64 978.05 L139.26 980.82 L143.89 982.67 L145.73 984.98 L146.66 988.68 L147.12 991.45 L144.81 993.30 L141.11 994.22 L136.49 995.15 L131.87 995.61 L128.17 996.07 L125.40 995.15 L123.55 992.37 L123.08 987.75 L123.55 983.13 L124.47 978.51 Z" fill="none" stroke="#000" stroke-width="0.85" stroke-linejoin="round" />
<path d="M161.45 971.11 L164.22 969.26 L167.92 970.19 L171.62 970.19 L175.32 969.26 L178.00 968.80" fill="none" stroke="#000" stroke-width="0.85" stroke-linejoin="round" />
<path d="M160.53 975.73 L163.30 975.27 L166.07 973.89 L168.38 972.04" fill="none" stroke="#000" stroke-width="0.85" stroke-linejoin="round" />
<path d="M161.45 988.68 L163.30 987.29 L165.15 987.75 L166.53 990.53 L165.15 993.30 L163.30 994.22 L161.45 993.76" fill="none" stroke="#000" stroke-width="0.85" stroke-linejoin="round" />
<path d="M119.85 997.00 L122.62 999.77 L125.40 1002.08 L128.17 1002.54 L131.87 1001.16 L136.49 999.77 L142.04 998.85 L148.51 998.38 L154.05 998.85 L156.83 1000.69 L157.75 1004.39 L157.75 1009.02 L157.29 1013.64 L157.75 1017.34 L158.68 1020.11" fill="none" stroke="#000" stroke-width="0.85" stroke-linejoin="round" />
<path d="M120.31 999.77 L123.08 1003.47 L125.86 1005.32 L129.09 1004.39 L133.72 1003.47 L139.26 1003.01 L145.73 1002.54 L150.36 1003.01 L153.13 1004.85 L154.52 1008.09 L154.98 1012.71 L155.44 1017.34 L155.90 1021.03" fill="none" stroke="#000" stroke-width="0.85" stroke-linejoin="round" />
<path d="M120.77 1002.54 L123.08 1007.17 L124.47 1012.71 L125.40 1016.41 L127.24 1017.34 L129.09 1015.49 L130.02 1011.79 L131.87 1008.09 L135.56 1006.24 L141.11 1004.85 L145.73 1003.93 L149.43 1004.39 L151.28 1007.17 L151.74 1011.79 L152.21 1016.41 L153.13 1020.11" fill="none" stroke="#000" stroke-width="0.85" stroke-linejoin="round" />
<path d="M121.24 1007.17 L122.16 1012.71 L123.08 1017.34 L125.40 1020.11 L130.02 1021.03 L136.49 1020.57 L142.04 1020.11 L147.58 1020.57 L152.21 1021.50" fill="none" stroke="#000" stroke-width="0.85" stroke-linejoin="round" />
<path d="M158.68 996.07 L161.45 997.92 L164.22 998.85 L166.07 1000.69 L166.53 1004.39 L166.07 1008.09 L164.22 1010.86 L162.84 1012.71 L162.37 1016.41 L163.30 1019.18 L164.22 1021.03" fill="none" stroke="#000" stroke-width="0.85" stroke-linejoin="round" />
<path d="M160.06 997.00 L161.91 999.77 L162.37 1003.47 L161.91 1008.09 L160.99 1011.79 L160.53 1015.49 L160.99 1019.18" fill="none" stroke="#000" stroke-width="0.85" stroke-linejoin="round" />
<path d="M119.85 957.24 L120.03 984.98 L119.85 1021.96" fill="none" stroke="#000" stroke-width="0.85" stroke-linejoin="round" />
<path d="M121.24 963.72 L121.70 975.73 L121.24 989.60 L121.70 995.15" fill="none" stroke="#000" stroke-width="0.85" stroke-linejoin="round" />
<path d="M156.83 956.32 L159.60 960.02 L161.91 960.94 L164.22 961.87" fill="none" stroke="#000" stroke-width="1.5" stroke-linejoin="round" />
<path d="M168.00 966.49 L170.77 965.10 L174.47 963.25 L178.17 963.72 L180.94 965.10 L183.72 966.49 L187.41 967.88 L191.11 968.80 L193.89 970.65 L195.73 972.04 L199.43 972.50 L202.21 971.57 L204.98 970.65 L208.68 970.19 L213.30 970.19 L217.00 970.65 L219.31 972.04 L218.85 974.81 L217.46 977.58 L216.07 979.89 L215.15 981.28 L213.30 982.67 L212.37 984.52 L213.30 986.83 L213.76 989.60 L212.37 992.37 L211.45 995.15 L210.99 997.92 L211.91 999.77 L210.53 1002.54 L208.68 1004.39 L206.83 1006.24 L204.98 1008.09 L203.13 1010.86 L202.21 1013.64 L199.89 1014.56 L197.58 1013.64 L195.73 1011.79 L193.89 1009.94 L192.04 1008.09 L190.19 1007.63 L188.34 1009.94 L186.49 1012.71 L188.34 1014.56 L191.11 1016.41 L193.89 1018.26 L196.66 1020.11 L198.51 1021.96" fill="none" stroke="#000" stroke-width="0.85" stroke-linejoin="round" />
<path d="M168.00 972.96 L170.77 971.11 L174.47 969.73 L178.17 969.73 L180.48 971.11 L181.40 974.81 L180.94 979.43 L180.02 983.13 L178.63 985.90 L176.78 988.68 L174.47 991.45 L172.16 994.22 L169.85 995.61" fill="none" stroke="#000" stroke-width="0.85" stroke-linejoin="round" />
<path d="M173.82 977.12 L174.93 976.01 L176.04 977.12 L174.93 978.23 Z" fill="none" stroke="#000" stroke-width="0.85" stroke-linejoin="round" />
<path d="M186.49 993.30 L188.34 990.53 L191.11 987.75 L193.89 985.44 L197.58 983.59 L201.28 982.21 L204.98 981.28 L207.75 982.21 L208.68 985.90 L207.75 989.60 L205.90 991.45 L203.13 992.37 L201.28 994.22 L200.36 996.07 L197.58 997.92 L194.81 997.46 L192.04 996.53 L189.26 996.07 L186.95 995.15 Z" fill="none" stroke="#000" stroke-width="0.85" stroke-linejoin="round" />
<path d="M187.41 1000.69 L189.26 999.77 L192.04 999.96 L192.96 1001.16 L191.57 1002.54 L188.80 1002.54 L187.41 1001.62 Z" fill="none" stroke="#000" stroke-width="0.85" stroke-linejoin="round" />
<path d="M204.98 997.92 L206.83 998.38 L208.68 999.31 L207.75 1000.69 L205.90 1000.23" fill="none" stroke="#000" stroke-width="0.85" stroke-linejoin="round" />
<path d="M168.00 996.53 L170.77 997.00 L173.55 997.92 L177.24 997.92 L181.87 997.46 L186.49 996.53 L191.11 997.00 L195.73 997.92 L200.36 997.92 L204.98 997.46 L208.68 997.00 L211.45 996.07" fill="none" stroke="#000" stroke-width="0.85" stroke-linejoin="round" />
<path d="M200.54 987.57 L201.10 987.57 L201.10 988.31 L200.54 988.31 Z" fill="none" stroke="#000" stroke-width="0.85" stroke-linejoin="round" />
<path d="M257.85 957.24 L259.70 959.09 L262.47 961.87 L265.24 964.64 L268.02 963.25 L271.72 962.33 L276.34 962.79 L281.89 962.61 L286.51 962.98 L290.21 963.72 L292.98 965.10 L295.75 966.49 L298.53 967.88 L302.22 966.95 L305.92 965.56 L309.62 964.64 L313.32 962.79 L316.00 960.94" fill="none" stroke="#000" stroke-width="0.85" stroke-linejoin="round" />
<path d="M296.68 973.89 L300.37 972.96 L304.07 971.57 L307.77 969.73 L311.47 967.88 L316.00 965.56" fill="none" stroke="#000" stroke-width="0.85" stroke-linejoin="round" />
<path d="M297.60 975.27 L302.22 974.35 L306.85 972.96 L311.47 971.11 L316.00 969.26" fill="none" stroke="#000" stroke-width="0.85" stroke-linejoin="round" />
<path d="M273.56 970.65 L275.41 967.88 L279.11 967.41 L283.73 968.34 L287.43 969.26 L289.28 971.11 L288.82 973.89 L286.51 975.73 L283.73 975.27 L280.96 973.42 L278.19 973.89 L275.88 975.73 L274.03 974.35 Z" fill="none" stroke="#000" stroke-width="0.85" stroke-linejoin="round" />
<path d="M292.98 965.10 L294.83 968.34 L296.68 972.04 L296.68 973.89" fill="none" stroke="#000" stroke-width="0.85" stroke-linejoin="round" />
<path d="M263.40 984.98 L267.09 985.90 L271.72 985.90 L276.34 984.52 L281.89 984.05 L287.43 984.05 L291.13 984.52 L293.90 985.90 L295.75 988.68 L297.14 992.37 L298.06 996.07 L298.53 999.77" fill="none" stroke="#000" stroke-width="0.85" stroke-linejoin="round" />
<path d="M263.40 990.53 L267.09 993.30 L270.79 992.37 L275.41 990.99 L280.04 990.53 L285.58 990.53 L290.21 990.99 L293.90 992.37 L295.75 995.15 L296.68 999.77 L297.14 1005.32" fill="none" stroke="#000" stroke-width="0.85" stroke-linejoin="round" />
<path d="M298.53 980.36 L300.37 978.51 L302.69 978.97 L304.07 981.28 L303.15 983.59 L301.30 984.52 L299.45 983.59 Z" fill="none" stroke="#000" stroke-width="0.85" stroke-linejoin="round" />
<path d="M302.22 984.52 L304.07 984.98 L305.46 986.37 L304.53 987.75 L302.69 987.29" fill="none" stroke="#000" stroke-width="0.85" stroke-linejoin="round" />
<path d="M301.76 988.68 L302.22 991.45 L303.15 993.30" fill="none" stroke="#000" stroke-width="0.85" stroke-linejoin="round" />
<path d="M258.77 996.07 L261.55 997.92 L264.32 999.77 L266.17 1001.62 L268.02 999.77 L271.72 997.00 L277.26 995.15 L283.73 994.69 L289.28 995.15 L292.98 997.00 L295.75 1000.69 L297.60 1005.32 L298.53 1010.86 L299.45 1016.41 L299.91 1021.03" fill="none" stroke="#000" stroke-width="0.85" stroke-linejoin="round" />
<path d="M259.70 997.92 L262.47 1003.47 L265.24 1005.32 L268.02 1002.54 L272.64 999.77 L279.11 998.38 L285.58 998.38 L290.21 999.77 L292.98 1002.54 L294.83 1007.17 L295.75 1012.71 L296.21 1018.26 L296.68 1021.50" fill="none" stroke="#000" stroke-width="0.85" stroke-linejoin="round" />
<path d="M269.87 1006.24 L273.56 1003.47 L278.19 1001.62 L282.81 1001.16 L287.43 1002.54 L290.21 1005.32 L291.13 1009.94 L290.21 1014.56 L291.13 1018.26 L294.83 1021.03" fill="none" stroke="#000" stroke-width="0.85" stroke-linejoin="round" />
<path d="M270.79 1008.09 L271.25 1012.71 L272.64 1016.41 L271.72 1018.26 L268.02 1019.18 L265.24 1018.26 L263.40 1016.41 L262.47 1011.79 L261.55 1005.32" fill="none" stroke="#000" stroke-width="0.85" stroke-linejoin="round" />
<path d="M260.62 1000.69 L261.08 1008.09 L262.01 1014.56 L263.40 1018.26 L267.09 1020.11 L274.49 1020.57 L283.73 1020.11 L291.13 1021.03" fill="none" stroke="#000" stroke-width="0.85" stroke-linejoin="round" />
<path d="M258.77 1003.47 L259.24 1012.71 L259.70 1020.11" fill="none" stroke="#000" stroke-width="0.85" stroke-linejoin="round" />
<path d="M258.31 961.87 L258.77 975.73 L258.59 994.22 L258.31 1021.96" fill="none" stroke="#000" stroke-width="0.85" stroke-linejoin="round" />
<path d="M259.70 964.64 L261.55 969.26 L262.47 975.73 L261.55 983.13 L260.62 989.60 L260.16 994.22" fill="none" stroke="#000" stroke-width="0.85" stroke-linejoin="round" />
<path d="M260.62 966.49 L263.40 971.11 L264.32 977.58 L262.93 984.98 L261.55 990.53" fill="none" stroke="#000" stroke-width="0.85" stroke-linejoin="round" />
<path d="M296.68 973.89 L299.45 975.27 L302.22 975.73 L305.92 975.27" fill="none" stroke="#000" stroke-width="1.15" stroke-linejoin="round" />
<path d="M258.03 958.17 L258.22 984.98 L258.03 1021.03" fill="none" stroke="#000" stroke-width="1.6" stroke-linejoin="round" />
<path d="M305.00 965.13 L309.62 962.82 L314.24 960.51 L318.87 958.20 L323.49 955.89 L328.11 953.57 L332.73 950.80 L336.43 948.49 L338.74 947.56 L341.98 948.49 L345.68 948.03 L349.37 947.56 L353.07 946.64 L355.38 946.18 L356.77 948.49 L358.16 950.80 L360.47 953.11 L363.24 954.50 L365.00 954.04" fill="none" stroke="#000" stroke-width="0.85" stroke-linejoin="round" />
<path d="M305.00 968.37 L309.62 966.52 L314.24 964.67 L318.87 962.36 L323.49 960.05 L328.11 958.20 L332.73 956.81 L337.36 955.89 L340.13 957.27 L341.98 959.58 L343.37 961.89 L345.21 961.89 L347.06 960.51 L347.99 957.73 L348.91 958.66 L348.45 960.51 L349.37 961.89 L353.07 962.36 L355.85 963.28 L356.31 966.05 L355.38 968.83 L354.00 971.60 L353.07 974.37 L351.22 977.15 L349.84 979.92 L348.91 982.69 L347.53 985.47 L346.14 988.24 L345.68 991.02 L347.53 992.86 L348.45 994.71" fill="none" stroke="#000" stroke-width="0.85" stroke-linejoin="round" />
<path d="M305.00 970.68 L309.62 969.29 L314.24 967.90 L318.87 966.05 L323.49 964.67 L328.11 963.28 L332.73 961.89 L337.36 961.43 L339.21 961.89 L341.05 963.28 L341.52 965.13 L340.13 966.98 L339.21 968.83 L339.67 970.68 L340.13 972.53 L339.21 974.37 L337.36 975.30 L334.58 974.37 L332.73 972.53 L331.81 970.68 L330.42 968.83 L329.04 966.98" fill="none" stroke="#000" stroke-width="0.85" stroke-linejoin="round" />
<path d="M335.51 967.44 L337.36 965.59 L339.21 967.44 L337.36 969.29 Z" fill="none" stroke="#000" stroke-width="0.85" stroke-linejoin="round" />
<path d="M365.00 959.58 L362.32 961.43 L360.47 964.21 L358.62 966.98 L356.77 969.75 L354.92 972.53 L353.07 976.22 L351.69 979.00 L350.30 981.77 L349.37 984.54 L348.45 987.32 L347.53 990.09" fill="none" stroke="#000" stroke-width="0.85" stroke-linejoin="round" />
<path d="M317.94 975.30 L319.79 974.37 L322.56 974.84 L323.49 976.22 L322.56 978.07 L319.79 978.53 L318.40 977.61 Z" fill="none" stroke="#000" stroke-width="0.85" stroke-linejoin="round" />
<path d="M324.88 973.45 L327.19 972.06 L329.96 972.53 L331.35 974.37 L331.35 977.15 L329.50 978.53 L327.19 978.53 L325.34 976.69 Z" fill="none" stroke="#000" stroke-width="0.85" stroke-linejoin="round" />
<path d="M319.79 970.68 L322.56 969.75 L325.34 970.68 L327.19 972.53" fill="none" stroke="#000" stroke-width="0.85" stroke-linejoin="round" />
<path d="M311.01 979.92 L312.40 979.00 L315.17 980.38 L318.87 981.31 L320.25 983.16 L318.87 984.54 L315.17 984.54 L311.93 983.16 L311.01 981.31 Z" fill="none" stroke="#000" stroke-width="0.85" stroke-linejoin="round" />
<path d="M323.95 990.09 L325.80 987.78 L328.57 987.32 L331.81 988.24 L333.20 990.09 L332.27 992.86 L329.96 994.25 L327.19 994.71 L324.88 993.79 L323.95 991.94 Z" fill="none" stroke="#000" stroke-width="0.85" stroke-linejoin="round" />
<path d="M335.51 985.93 L337.36 984.54 L339.67 984.08 L340.59 985.47 L339.21 987.78 L337.36 988.70 L335.51 987.32 Z" fill="none" stroke="#000" stroke-width="0.85" stroke-linejoin="round" />
<path d="M348.07 993.32 L347.61 996.09 L346.22 998.87 L345.30 1001.64 L343.45 1004.41 L340.68 1005.80 L337.90 1005.80 L335.13 1004.88 L332.36 1004.41 L328.66 1003.95 L326.81 1005.34 L327.73 1007.19 L329.58 1009.04 L328.66 1011.81 L326.81 1012.73 L325.89 1014.58 L327.73 1016.43 L329.58 1018.28 L331.89 1020.13 L335.13 1021.05 L338.83 1021.52" fill="none" stroke="#000" stroke-width="0.85" stroke-linejoin="round" />
<path d="M318.49 1007.65 L321.26 1007.19 L324.96 1007.65 L327.73 1009.04" fill="none" stroke="#000" stroke-width="0.85" stroke-linejoin="round" />
<path d="M317.56 1009.04 L317.10 1012.73 L316.18 1016.43 L313.87 1017.36 L311.09 1017.82 L309.24 1017.36" fill="none" stroke="#000" stroke-width="0.85" stroke-linejoin="round" />
<path d="M341.60 1005.34 L339.75 1007.19 L336.98 1008.57 L334.21 1009.96 L331.43 1011.81 L329.58 1013.66 L330.51 1016.43 L332.36 1019.21 L334.21 1020.59" fill="none" stroke="#000" stroke-width="0.85" stroke-linejoin="round" />
<path d="M306.47 997.02 L307.40 1000.72 L306.47 1004.41 L306.93 1008.11 L308.32 1010.89 L309.24 1014.58 L308.78 1017.36" fill="none" stroke="#000" stroke-width="0.85" stroke-linejoin="round" />
<path d="M310.17 1003.49 L311.56 1004.41 L312.48 1007.19 L311.56 1009.04 L310.17 1008.11 L309.71 1005.34 Z" fill="none" stroke="#000" stroke-width="0.85" stroke-linejoin="round" />
<path d="M319.41 996.09 L321.26 996.56 L323.11 997.94 L323.57 999.79 L322.19 1000.25 L320.80 998.87" fill="none" stroke="#000" stroke-width="0.85" stroke-linejoin="round" />
<path d="M327.27 995.63 L328.66 997.02 L330.05 997.94 L329.58 998.87 L328.20 998.40" fill="none" stroke="#000" stroke-width="0.85" stroke-linejoin="round" />
<path d="M348.07 993.32 L347.61 996.09 L346.22 998.87 L345.30 1001.64 L343.45 1004.41" fill="none" stroke="#000" stroke-width="1.5" stroke-linejoin="round" />
<path d="M362.44 954.04 L364.84 953.24 L367.24 951.23 L370.45 950.03 L372.85 949.23 L374.46 947.23 L376.06 946.43 L378.46 946.43 L379.66 947.23 L378.46 948.83 L376.86 950.83 L375.26 953.24 L372.85 955.64 L369.65 958.04 L366.44 959.65 L364.04 961.25 L362.44 962.85 L361.63 965.26 L360.03 966.86 L358.43 968.46 L356.83 970.87 L355.22 973.27 L353.62 974.87 L352.02 976.47 L350.42 978.88" fill="none" stroke="#000" stroke-width="0.85" stroke-linejoin="round" />
<path d="M348.01 958.04 L348.81 960.45 L350.42 962.85 L353.62 962.85 L356.03 962.45 L357.23 963.65 L356.83 966.06 L356.03 968.46 L355.22 970.87 L354.42 973.27 L353.62 974.87 L352.02 977.28 L351.22 978.88" fill="none" stroke="#000" stroke-width="0.85" stroke-linejoin="round" />
<rect x="119.5" y="772.5" width="132.0" height="122.5" fill="none" stroke="#666" stroke-width="1.25"/>
<line x1="171.2" y1="772.5" x2="171.2" y2="895" stroke="#7a7a7a" stroke-width="1.3"/>
<line x1="119.5" y1="868.2" x2="251.5" y2="868.2" stroke="#555" stroke-width="1.3"/>
<rect x="257.8" y="772.5" width="132.5" height="122.5" fill="none" stroke="#666" stroke-width="1.25"/>
<line x1="310.2" y1="772.5" x2="310.2" y2="895" stroke="#7a7a7a" stroke-width="1.3"/>
<line x1="257.8" y1="868.2" x2="390.3" y2="868.2" stroke="#555" stroke-width="1.3"/>
<rect x="119.5" y="900" width="132.0" height="122.29999999999995" fill="none" stroke="#666" stroke-width="1.25"/>
<line x1="171.0" y1="900" x2="171.0" y2="1022.3" stroke="#7a7a7a" stroke-width="1.3"/>
<line x1="119.5" y1="995.4" x2="251.5" y2="995.4" stroke="#2a2a2a" stroke-width="1.3"/>
<rect x="257.8" y="900" width="132.5" height="122.29999999999995" fill="none" stroke="#666" stroke-width="1.25"/>
<line x1="310.2" y1="900" x2="310.2" y2="1022.3" stroke="#7a7a7a" stroke-width="1.3"/>
<line x1="257.8" y1="995.4" x2="390.3" y2="995.4" stroke="#2a2a2a" stroke-width="1.3"/>
<g stroke="#1a1a1a" stroke-width="1.6">
<line x1="118.9" y1="894.9" x2="172" y2="894.9"/><line x1="257.2" y1="894.9" x2="350" y2="894.9"/>
<line x1="118.9" y1="1022.1" x2="172" y2="1022.1"/><line x1="257.2" y1="1022.1" x2="345" y2="1022.1"/>
</g>
<text x="214.62" y="789.49" font-size="11.63" font-weight="bold" letter-spacing="0.23" fill="#000"  stroke="#000" stroke-width="0.35">2.3</text>
<text x="353.41" y="789.72" font-size="10.8" font-weight="bold" letter-spacing="0.24" fill="#000"  stroke="#000" stroke-width="0.35">4.6</text>
<text x="214.37" y="917.32" font-size="10.95" font-weight="bold" letter-spacing="0.66" fill="#000"  stroke="#000" stroke-width="0.35">6.6</text>
<text x="349.19" y="917.02" font-size="10.95" font-weight="bold" letter-spacing="0.54" fill="#000"  stroke="#000" stroke-width="0.35">11.6</text>
<text x="174.76" y="755.43" font-size="17.95" font-weight="bold" textLength="27.66" lengthAdjust="spacingAndGlyphs"  stroke="#000" stroke-width="0.35">WT</text>
<text x="327.06" y="755.53" font-size="17.81" font-weight="bold" fill="#000"  stroke="#000" stroke-width="0.35">W</text>
<text x="343.83" y="749.61" font-size="11.37" font-weight="bold" letter-spacing="0.57" fill="#000"  stroke="#000" stroke-width="0.35">-sh</text>
<line x1="92.6" y1="781.5" x2="92.6" y2="835.4" stroke="#000" stroke-width="1.6"/><path d="M92.6 771.2 L87.3 782 L97.89999999999999 782 Z" fill="#000"/>
<text transform="translate(102.54 894.08) rotate(-90)" font-size="18.86" font-weight="bold" textLength="58.36" lengthAdjust="spacingAndGlyphs" stroke="#000" stroke-width="0.35">CD11b</text>
<line x1="92.4" y1="943.3" x2="92.4" y2="987.5" stroke="#000" stroke-width="1.6"/><path d="M92.4 933 L86.80000000000001 943.8 L98.0 943.8 Z" fill="#000"/>
<text transform="translate(102.14 1038.74) rotate(-90)" font-size="19.42" font-weight="bold" textLength="44.86" lengthAdjust="spacingAndGlyphs" stroke="#000" stroke-width="0.35">CD8a</text>
<text x="127.47" y="1042.86" font-size="17.16" font-weight="bold" letter-spacing="0.38" fill="#000"  stroke="#000" stroke-width="0.35">CD11c</text>
<line x1="189.7" y1="1037" x2="244.5" y2="1037" stroke="#000" stroke-width="1.6"/><path d="M255.1 1037 L244 1032.3 L244 1041.7 Z" fill="#000"/>
<g fill="#8a8a8a"><rect x="227" y="843" width="1" height="1"/><rect x="220" y="852" width="1" height="1"/><rect x="225" y="846" width="1" height="1"/><rect x="207" y="846" width="1" height="1"/><rect x="209" y="858" width="1" height="1"/><rect x="235" y="850" width="1" height="1"/><rect x="221" y="858" width="1" height="1"/><rect x="207" y="861" width="1" height="1"/><rect x="230" y="874" width="1" height="1"/><rect x="211" y="850" width="1" height="1"/><rect x="230" y="863" width="1" height="1"/><rect x="224" y="841" width="1" height="1"/><rect x="222" y="853" width="1" height="1"/><rect x="214" y="838" width="1" height="1"/></g>
<g fill="#8a8a8a"><rect x="189" y="837" width="1" height="1"/><rect x="179" y="841" width="1" height="1"/><rect x="195" y="832" width="1" height="1"/><rect x="191" y="828" width="1" height="1"/><rect x="188" y="834" width="1" height="1"/><rect x="190" y="840" width="1" height="1"/></g>
<g fill="#8a8a8a"><rect x="349" y="815" width="1" height="1"/><rect x="348" y="820" width="1" height="1"/><rect x="339" y="812" width="1" height="1"/><rect x="338" y="824" width="1" height="1"/><rect x="365" y="831" width="1" height="1"/><rect x="373" y="806" width="1" height="1"/><rect x="387" y="799" width="1" height="1"/><rect x="321" y="828" width="1" height="1"/><rect x="370" y="811" width="1" height="1"/><rect x="365" y="831" width="1" height="1"/><rect x="359" y="826" width="1" height="1"/><rect x="377" y="808" width="1" height="1"/><rect x="311" y="824" width="1" height="1"/><rect x="337" y="815" width="1" height="1"/><rect x="355" y="820" width="1" height="1"/><rect x="350" y="827" width="1" height="1"/><rect x="335" y="814" width="1" height="1"/><rect x="357" y="841" width="1" height="1"/><rect x="358" y="821" width="1" height="1"/><rect x="355" y="843" width="1" height="1"/><rect x="327" y="826" width="1" height="1"/><rect x="352" y="825" width="1" height="1"/><rect x="372" y="811" width="1" height="1"/><rect x="365" y="827" width="1" height="1"/><rect x="374" y="813" width="1" height="1"/><rect x="370" y="809" width="1" height="1"/><rect x="359" y="836" width="1" height="1"/><rect x="341" y="811" width="1" height="1"/><rect x="367" y="805" width="1" height="1"/><rect x="359" y="818" width="1" height="1"/><rect x="374" y="810" width="1" height="1"/><rect x="335" y="827" width="1" height="1"/><rect x="364" y="812" width="1" height="1"/><rect x="375" y="820" width="1" height="1"/><rect x="364" y="815" width="1" height="1"/><rect x="328" y="829" width="1" height="1"/><rect x="365" y="826" width="1" height="1"/><rect x="335" y="828" width="1" height="1"/><rect x="384" y="811" width="1" height="1"/><rect x="350" y="837" width="1" height="1"/><rect x="366" y="822" width="1" height="1"/><rect x="325" y="816" width="1" height="1"/><rect x="331" y="813" width="1" height="1"/><rect x="356" y="806" width="1" height="1"/><rect x="362" y="823" width="1" height="1"/><rect x="346" y="824" width="1" height="1"/><rect x="345" y="821" width="1" height="1"/><rect x="372" y="810" width="1" height="1"/><rect x="382" y="805" width="1" height="1"/><rect x="324" y="826" width="1" height="1"/><rect x="358" y="813" width="1" height="1"/><rect x="368" y="820" width="1" height="1"/><rect x="368" y="818" width="1" height="1"/><rect x="326" y="814" width="1" height="1"/><rect x="353" y="826" width="1" height="1"/><rect x="351" y="838" width="1" height="1"/><rect x="322" y="823" width="1" height="1"/><rect x="360" y="809" width="1" height="1"/><rect x="350" y="817" width="1" height="1"/><rect x="368" y="804" width="1" height="1"/></g>
<g fill="#8a8a8a"><rect x="321" y="804" width="1" height="1"/><rect x="309" y="808" width="1" height="1"/><rect x="330" y="811" width="1" height="1"/><rect x="362" y="799" width="1" height="1"/><rect x="283" y="816" width="1" height="1"/><rect x="286" y="812" width="1" height="1"/><rect x="297" y="815" width="1" height="1"/><rect x="322" y="809" width="1" height="1"/><rect x="310" y="814" width="1" height="1"/><rect x="310" y="803" width="1" height="1"/><rect x="290" y="822" width="1" height="1"/><rect x="294" y="816" width="1" height="1"/><rect x="301" y="819" width="1" height="1"/><rect x="292" y="814" width="1" height="1"/><rect x="359" y="795" width="1" height="1"/><rect x="362" y="791" width="1" height="1"/></g>
<g fill="#8a8a8a"><rect x="370" y="846" width="1" height="1"/><rect x="368" y="880" width="1" height="1"/><rect x="369" y="873" width="1" height="1"/><rect x="370" y="862" width="1" height="1"/><rect x="355" y="859" width="1" height="1"/><rect x="361" y="860" width="1" height="1"/><rect x="358" y="847" width="1" height="1"/><rect x="356" y="854" width="1" height="1"/><rect x="364" y="852" width="1" height="1"/><rect x="367" y="837" width="1" height="1"/><rect x="361" y="877" width="1" height="1"/><rect x="352" y="848" width="1" height="1"/><rect x="358" y="845" width="1" height="1"/><rect x="365" y="878" width="1" height="1"/></g>
<g fill="#8a8a8a"><rect x="122" y="957" width="1" height="1"/><rect x="215" y="967" width="1" height="1"/><rect x="149" y="955" width="1" height="1"/><rect x="225" y="983" width="1" height="1"/><rect x="171" y="954" width="1" height="1"/><rect x="226" y="979" width="1" height="1"/><rect x="223" y="968" width="1" height="1"/><rect x="175" y="965" width="1" height="1"/><rect x="168" y="959" width="1" height="1"/><rect x="217" y="964" width="1" height="1"/><rect x="129" y="963" width="1" height="1"/><rect x="189" y="959" width="1" height="1"/><rect x="184" y="954" width="1" height="1"/><rect x="200" y="969" width="1" height="1"/><rect x="229" y="999" width="1" height="1"/><rect x="221" y="994" width="1" height="1"/><rect x="200" y="964" width="1" height="1"/><rect x="215" y="971" width="1" height="1"/><rect x="230" y="980" width="1" height="1"/><rect x="224" y="986" width="1" height="1"/><rect x="190" y="961" width="1" height="1"/><rect x="206" y="962" width="1" height="1"/><rect x="184" y="958" width="1" height="1"/><rect x="162" y="953" width="1" height="1"/><rect x="191" y="964" width="1" height="1"/><rect x="219" y="968" width="1" height="1"/><rect x="195" y="959" width="1" height="1"/><rect x="229" y="989" width="1" height="1"/><rect x="223" y="978" width="1" height="1"/><rect x="191" y="955" width="1" height="1"/><rect x="168" y="957" width="1" height="1"/><rect x="185" y="956" width="1" height="1"/><rect x="198" y="958" width="1" height="1"/><rect x="222" y="980" width="1" height="1"/><rect x="209" y="969" width="1" height="1"/><rect x="228" y="996" width="1" height="1"/><rect x="146" y="962" width="1" height="1"/><rect x="202" y="969" width="1" height="1"/><rect x="176" y="959" width="1" height="1"/><rect x="223" y="968" width="1" height="1"/><rect x="215" y="965" width="1" height="1"/><rect x="224" y="993" width="1" height="1"/><rect x="184" y="956" width="1" height="1"/><rect x="175" y="966" width="1" height="1"/><rect x="218" y="969" width="1" height="1"/></g>
<g fill="#8a8a8a"><rect x="382" y="928" width="1" height="1"/><rect x="357" y="936" width="1" height="1"/><rect x="363" y="947" width="1" height="1"/><rect x="365" y="936" width="1" height="1"/><rect x="357" y="938" width="1" height="1"/><rect x="383" y="932" width="1" height="1"/><rect x="379" y="938" width="1" height="1"/><rect x="345" y="942" width="1" height="1"/><rect x="381" y="930" width="1" height="1"/><rect x="366" y="932" width="1" height="1"/><rect x="372" y="941" width="1" height="1"/><rect x="351" y="945" width="1" height="1"/><rect x="357" y="945" width="1" height="1"/><rect x="358" y="938" width="1" height="1"/><rect x="335" y="949" width="1" height="1"/><rect x="342" y="942" width="1" height="1"/><rect x="358" y="947" width="1" height="1"/><rect x="337" y="943" width="1" height="1"/><rect x="361" y="942" width="1" height="1"/><rect x="336" y="944" width="1" height="1"/><rect x="347" y="939" width="1" height="1"/><rect x="377" y="941" width="1" height="1"/><rect x="383" y="930" width="1" height="1"/><rect x="367" y="933" width="1" height="1"/><rect x="362" y="936" width="1" height="1"/><rect x="350" y="942" width="1" height="1"/><rect x="346" y="949" width="1" height="1"/><rect x="368" y="946" width="1" height="1"/><rect x="364" y="938" width="1" height="1"/><rect x="340" y="942" width="1" height="1"/><rect x="358" y="932" width="1" height="1"/><rect x="359" y="943" width="1" height="1"/><rect x="385" y="932" width="1" height="1"/><rect x="349" y="943" width="1" height="1"/><rect x="349" y="942" width="1" height="1"/><rect x="366" y="932" width="1" height="1"/><rect x="379" y="941" width="1" height="1"/><rect x="350" y="944" width="1" height="1"/><rect x="364" y="931" width="1" height="1"/><rect x="374" y="945" width="1" height="1"/></g>
<g fill="#8a8a8a"><rect x="343" y="934" width="1" height="1"/><rect x="270" y="955" width="1" height="1"/><rect x="295" y="952" width="1" height="1"/><rect x="271" y="958" width="1" height="1"/><rect x="338" y="938" width="1" height="1"/><rect x="374" y="921" width="1" height="1"/><rect x="330" y="940" width="1" height="1"/><rect x="381" y="926" width="1" height="1"/><rect x="301" y="950" width="1" height="1"/><rect x="297" y="952" width="1" height="1"/><rect x="303" y="946" width="1" height="1"/><rect x="308" y="944" width="1" height="1"/><rect x="385" y="917" width="1" height="1"/><rect x="268" y="958" width="1" height="1"/><rect x="311" y="943" width="1" height="1"/><rect x="293" y="949" width="1" height="1"/><rect x="303" y="947" width="1" height="1"/><rect x="290" y="949" width="1" height="1"/><rect x="352" y="929" width="1" height="1"/><rect x="311" y="952" width="1" height="1"/><rect x="330" y="942" width="1" height="1"/><rect x="276" y="958" width="1" height="1"/><rect x="356" y="927" width="1" height="1"/><rect x="267" y="958" width="1" height="1"/><rect x="300" y="954" width="1" height="1"/></g>
<g fill="#8a8a8a"><rect x="381" y="982" width="1" height="1"/><rect x="383" y="953" width="1" height="1"/><rect x="380" y="975" width="1" height="1"/><rect x="379" y="973" width="1" height="1"/><rect x="375" y="968" width="1" height="1"/><rect x="383" y="1011" width="1" height="1"/><rect x="379" y="995" width="1" height="1"/><rect x="375" y="975" width="1" height="1"/><rect x="372" y="988" width="1" height="1"/><rect x="384" y="963" width="1" height="1"/><rect x="387" y="1010" width="1" height="1"/><rect x="383" y="954" width="1" height="1"/><rect x="386" y="960" width="1" height="1"/><rect x="387" y="976" width="1" height="1"/><rect x="377" y="972" width="1" height="1"/><rect x="387" y="1003" width="1" height="1"/></g>
</svg>
</body></html>
